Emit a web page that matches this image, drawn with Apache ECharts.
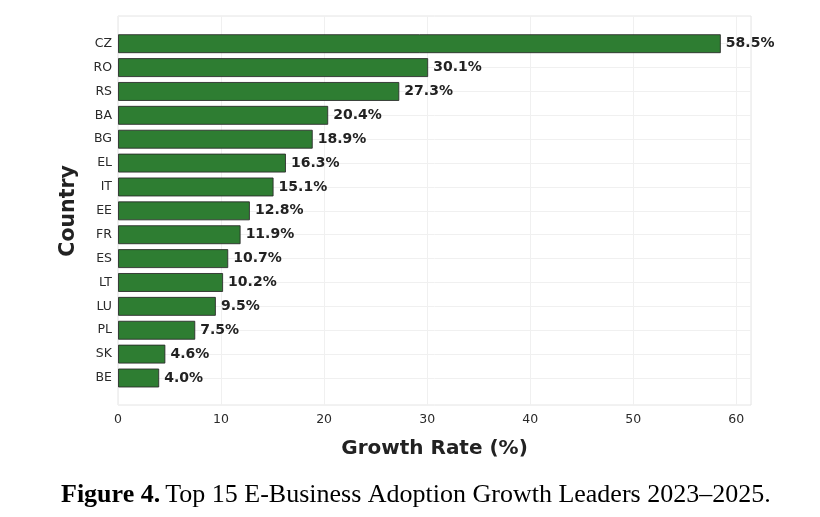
<!DOCTYPE html>
<html>
<head>
<meta charset="utf-8">
<script src="https://cdn.jsdelivr.net/npm/echarts@6/dist/echarts.min.js"></script>
<style>
  html, body { margin: 0; padding: 0; background: #fff; }
  #chart { width: 820px; height: 517px; }
</style>
</head>
<body>
<div id="chart"></div>
<script>
const countries = ['CZ', 'RO', 'RS', 'BA', 'BG', 'EL', 'IT', 'EE', 'FR', 'ES', 'LT', 'LU', 'PL', 'SK', 'BE'];
const growth = [58.5, 30.1, 27.3, 20.4, 18.9, 16.3, 15.1, 12.8, 11.9, 10.7, 10.2, 9.5, 7.5, 4.6, 4.0];
const xTicks = [0, 10, 20, 30, 40, 50, 60];

const xMax = 61.425;
const font = 'DejaVu Sans';

const myChart = echarts.init(document.getElementById('chart'), null, { renderer: 'canvas' });

const option = {
    backgroundColor: '#fff',
    animation: false,
    title: {
        left: 56,
        top: 477,
        text: '{b|Figure 4.} {r|Top 15 E-Business Adoption Growth Leaders 2023–2025.}',
        textStyle: {
            fontWeight: 'normal',
            rich: {
                b: { fontFamily: 'Liberation Serif', fontWeight: 'bold', fontSize: 26, color: '#000' },
                r: { fontFamily: 'Liberation Serif', fontWeight: 'normal', fontSize: 26, color: '#000' }
            }
        }
    },
    grid: [
        // outer frame
        { left: 118, right: 69, top: 16, bottom: 112, show: true, borderColor: '#e4e4e4', borderWidth: 1 },
        // bar area (category centers)
        { left: 118, right: 69, top: 43.7, bottom: 139 }
    ],
    xAxis: [{
        gridIndex: 0,
        type: 'value',
        min: 0,
        max: xMax,
        interval: 10,
        axisLine: { show: false },
        axisTick: { show: false },
        axisLabel: {
            fontFamily: font, fontSize: 12.5, color: '#2a2a2a', margin: 8,
            showMaxLabel: false,
            formatter: v => xTicks.includes(v) ? String(v) : ''
        },
        splitLine: { show: true, lineStyle: { color: '#f0f0f0', width: 1 } },
        name: 'Growth Rate (%)',
        nameLocation: 'middle',
        nameGap: 34,
        nameTextStyle: { fontFamily: font, fontWeight: 'bold', fontSize: 20, color: '#222' }
    }, {
        gridIndex: 1,
        type: 'value',
        min: 0,
        max: xMax,
        show: false
    }],
    yAxis: [{
        gridIndex: 0,
        type: 'value',
        show: false
    }, {
        gridIndex: 1,
        type: 'category',
        data: countries,
        inverse: true,
        boundaryGap: false,
        axisLine: { show: false },
        axisTick: { show: false },
        axisLabel: { fontFamily: font, fontSize: 12.5, color: '#2a2a2a', margin: 6 },
        splitLine: { show: true, lineStyle: { color: '#f0f0f0', width: 1 } },
        name: 'Country',
        nameLocation: 'middle',
        nameGap: 39,
        nameRotate: 90,
        nameTextStyle: { fontFamily: font, fontWeight: 'bold', fontSize: 20.5, color: '#222' }
    }],
    series: [{
        type: 'bar',
        xAxisIndex: 1,
        yAxisIndex: 1,
        data: growth,
        barWidth: 19,
        itemStyle: {
            color: '#2e7d32',
            borderColor: 'rgba(40,40,40,0.85)',
            borderWidth: 1
        },
        label: {
            show: true,
            position: 'right',
            distance: 5,
            formatter: p => p.value.toFixed(1) + '%',
            fontFamily: font,
            fontWeight: 'bold',
            fontSize: 14,
            color: '#222'
        }
    }]
};

myChart.setOption(option);
</script>
</body>
</html>
